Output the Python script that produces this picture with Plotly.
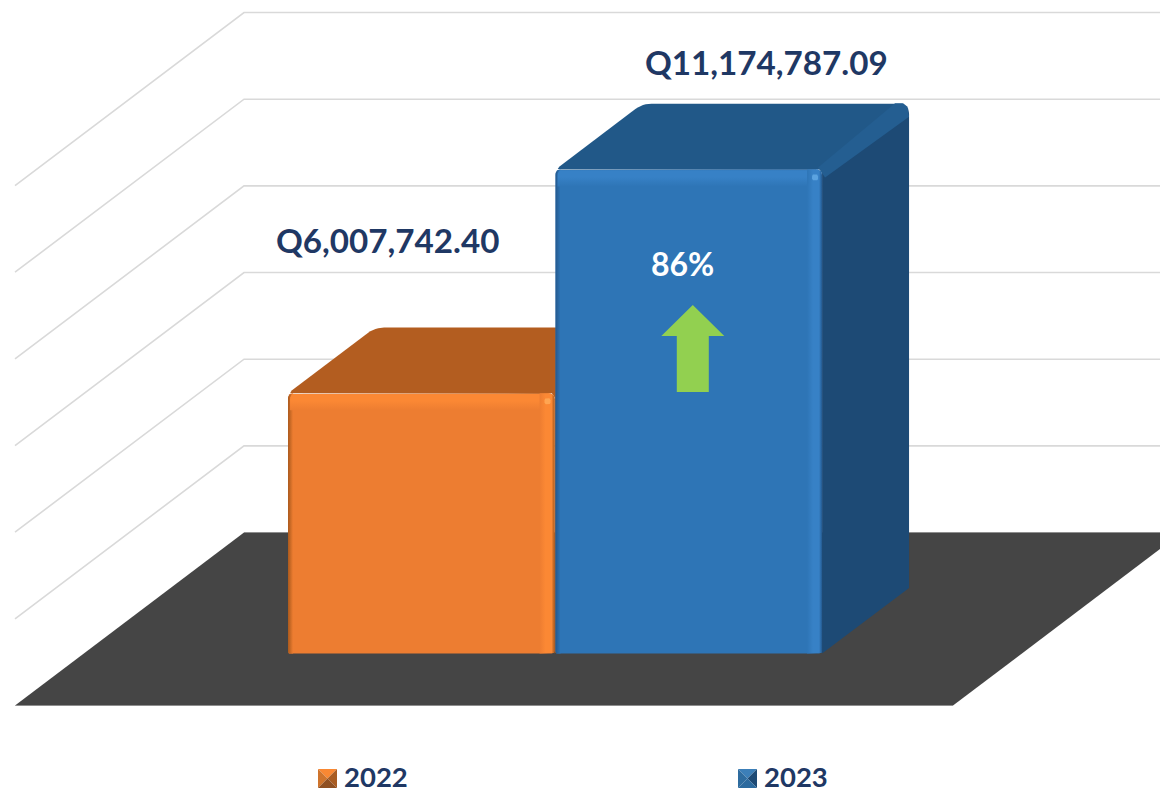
import plotly.graph_objects as go

# ---- data ----
SERIES = ["2022", "2023"]
VALUES = [6007742.40, 11174787.09]
VALUE_LABELS = ["Q6,007,742.40", "Q11,174,787.09"]
GRID_VALUES = [2e6, 4e6, 6e6, 8e6, 10e6, 12e6]
CHANGE_LABEL = "86%"

# ---- scales: x is the fraction of the floor width, y is the value ----
W, H = 1160, 788
PX_PER_X = 938.0
PX_PER_VAL = 43.33e-6
X_RANGE = [-15 / PX_PER_X, (W - 15) / PX_PER_X]
Y_RANGE = [-(H - 532.5) / PX_PER_VAL, 532.5 / PX_PER_VAL]
DEPTH_X = 229 / PX_PER_X
DEPTH_Y = 173 / PX_PER_VAL
BAR_W = 266.5 / PX_PER_X
CENTER = 0.5025
D_FRONT = 0.30
D_BACK = 0.30 + 87 / 229

NAVY = "#1F3864"
STYLES = [
    dict(face="#ED7D31", top="#B35D20", side="#A85A1E", bright="#FB8834", dark="#A9591C",
         ridge="#B35D20", spot="#FFA552", icon=["#F98833", "#CF742C", "#A85C22", "#8F5022"]),
    dict(face="#2E75B6", top="#215888", side="#1D4A75", bright="#3781C6", dark="#24598E",
         ridge="#245E91", spot="#5BA3E0", icon=["#3C7FB8", "#2E6C9F", "#1D4A75", "#2C6A9E"]),
]


def project(x, depth, value):
    """Oblique projection of chart coordinates on the two plane axes."""
    return x + depth * DEPTH_X, value - (1 - depth) * DEPTH_Y


def rounded(points, radii):
    """Round polygon corners; radii are given in screen pixels."""
    out = []
    n = len(points)
    for i, p in enumerate(points):
        r = radii[i]
        if r <= 0:
            out.append(p)
            continue
        a, b = points[i - 1], points[(i + 1) % n]

        def toward(q):
            dx, dy = (q[0] - p[0]) * PX_PER_X, (q[1] - p[1]) * PX_PER_VAL
            length = (dx * dx + dy * dy) ** 0.5
            t = r / length
            return p[0] + (q[0] - p[0]) * t, p[1] + (q[1] - p[1]) * t

        s, e = toward(a), toward(b)
        for k in range(7):
            t = k / 6
            out.append(((1 - t) ** 2 * s[0] + 2 * t * (1 - t) * p[0] + t * t * e[0],
                        (1 - t) ** 2 * s[1] + 2 * t * (1 - t) * p[1] + t * t * e[1]))
    return out


fig = go.Figure()


def poly(points, color=None, gradient=None):
    xs = [p[0] for p in points] + [points[0][0]]
    ys = [p[1] for p in points] + [points[0][1]]
    kw = dict(fillgradient=gradient) if gradient else dict(fillcolor=color)
    fig.add_trace(go.Scatter(x=xs, y=ys, mode="lines", fill="toself", line=dict(width=0),
                             hoverinfo="skip", showlegend=False, **kw))


def line(points, color, width):
    fig.add_trace(go.Scatter(x=[p[0] for p in points], y=[p[1] for p in points], mode="lines",
                             line=dict(color=color, width=width), hoverinfo="skip", showlegend=False))


def grad(kind, stops):
    return dict(type=kind, colorscale=stops)


xp, vp = 1 / PX_PER_X, 1 / PX_PER_VAL

# walls: grid lines running along the left wall and the back wall
for g in GRID_VALUES:
    line([project(0, 0, g), project(0, 1, g), project(1, 1, g), project(1.3, 1, g)], "#D9D9D9", 1.6)

# floor
floor = [project(0, 0, 0), project(1, 0, 0), project(1, 1, 0), project(0, 1, 0)]
line([project(0, 0, 0), project(1, 0, 0)], "#D9D9D9", 1.2)
line([project(0, 1, 0), project(1.3, 1, 0)], "#D9D9D9", 1.2)
poly(floor, "#454545")

# bars
for i, (value, st) in enumerate(zip(VALUES, STYLES)):
    x0 = CENTER - BAR_W - 0.5 * xp if i == 0 else CENTER + 0.5 * xp
    x1 = x0 + BAR_W
    f_bl, f_br = project(x0, D_FRONT, 0), project(x1, D_FRONT, 0)
    f_tl, f_tr = project(x0, D_FRONT, value), project(x1, D_FRONT, value)
    b_br = project(x1, D_BACK, 0)
    b_tl, b_tr = project(x0, D_BACK, value), project(x1, D_BACK, value)

    # right side
    poly(rounded([f_tr, b_tr, b_br, f_br], [0, 10, 0, 0]), st["side"])
    # top
    poly(rounded([f_tl, f_tr, b_tr, b_tl], [5, 0, 10, 9]), st["top"])
    # bevelled ridge between top and right side, covering the seam of the two faces
    poly([(f_tr[0] - 4 * xp, f_tr[1] + 2 * vp), (b_tr[0] - 14 * xp, b_tr[1] + 0.5 * vp), (b_tr[0] - 6 * xp, b_tr[1] + 0.5 * vp),
          (b_tr[0] - 1.5 * xp, b_tr[1] - 3 * vp), (b_tr[0], b_tr[1] - 13 * vp), (f_tr[0] + 3 * xp, f_tr[1] - 8 * vp)],
         st["ridge"])
    # front
    poly(rounded([f_bl, f_br, f_tr, f_tl], [2, 3, 6, 6]), st["face"])

    # left edge shading
    poly(rounded([f_bl, (f_bl[0] + 5 * xp, f_bl[1]), (f_tl[0] + 5 * xp, f_tl[1]), f_tl], [2, 0, 0, 5]),
         gradient=grad("horizontal", [[0, st["dark"]], [1, st["face"]]]))
    # top edge shading
    poly(rounded([(f_tl[0] + 2 * xp, f_tl[1] - 17 * vp), (f_tr[0] - 2 * xp, f_tr[1] - 17 * vp),
                  (f_tr[0] - 2 * xp, f_tr[1]), (f_tl[0] + 2 * xp, f_tl[1])], [0, 0, 6, 6]),
         gradient=grad("vertical", [[0, st["face"]], [0.55, st["bright"]], [0.93, st["bright"]], [1, st["dark"]]]))
    # right edge shading
    poly(rounded([(f_br[0] - 15 * xp, f_br[1]), f_br, f_tr, (f_tr[0] - 15 * xp, f_tr[1])], [0, 3, 6, 0]),
         gradient=grad("horizontal", [[0, st["face"]], [0.4, st["bright"]], [0.8, st["bright"]], [1, st["dark"]]]))
    # small highlight in the corner
    sx, sy = f_tr[0] - 7 * xp, f_tr[1] - 8 * vp
    poly(rounded([(sx - 3 * xp, sy - 3 * vp), (sx + 3 * xp, sy - 3 * vp), (sx + 3 * xp, sy + 3 * vp), (sx - 3 * xp, sy + 3 * vp)],
                 [2, 2, 2, 2]), st["spot"])

annotations = []


def label(x, y, text, color, size):
    annotations.append(dict(x=x, y=y, xref="x", yref="y", text=text, showarrow=False, xanchor="center",
                            yanchor="middle", font=dict(family="Lato, Carlito, sans-serif", size=size, color=color)))


blue_fx = project(CENTER + 0.5 * xp + BAR_W / 2, D_FRONT, 0)[0]

# value labels above each bar
label(project(CENTER - BAR_W / 2, D_FRONT, 0)[0] - 34 * xp, project(0, D_BACK, VALUES[0])[1] + 88 * vp,
      "<b>%s</b>" % VALUE_LABELS[0], NAVY, 33.2)
label(project(CENTER + BAR_W / 2, D_FRONT, 0)[0] + 78 * xp, project(0, D_BACK, VALUES[1])[1] + 42 * vp,
      "<b>%s</b>" % VALUE_LABELS[1], NAVY, 33.2)

# change marker inside the 2023 bar
top_2023 = project(0, D_FRONT, VALUES[1])[1]
ax, ay = blue_fx + 4 * xp, top_2023 - 135.5 * vp
poly([(ax, ay), (ax + 31.5 * xp, ay - 31 * vp), (ax + 16 * xp, ay - 31 * vp), (ax + 16 * xp, ay - 87 * vp),
      (ax - 16 * xp, ay - 87 * vp), (ax - 16 * xp, ay - 31 * vp), (ax - 31.5 * xp, ay - 31 * vp)], "#92D050")
label(blue_fx - 6 * xp, top_2023 - 94 * vp, "<b>%s</b>" % CHANGE_LABEL, "white", 32)

# legend
legend_left = [318, 738]
legend_mid = 778.5
for name, left, st in zip(SERIES, legend_left, STYLES):
    x0 = (left - 15) * xp
    y_mid = (532.5 - legend_mid) * vp
    s = 9.5
    cx = x0 + s * xp
    c = (cx, y_mid)
    tl, tr = (cx - s * xp, y_mid + s * vp), (cx + s * xp, y_mid + s * vp)
    bl, br = (cx - s * xp, y_mid - s * vp), (cx + s * xp, y_mid - s * vp)
    poly([tl, tr, c], st["icon"][0])
    poly([tl, bl, c], st["icon"][1])
    poly([tr, br, c], st["icon"][2])
    poly([bl, br, c], st["icon"][3])
    label(x0 + 58 * xp, y_mid + 2.5 * vp, "<b>%s</b>" % name, NAVY, 27.5)

fig.update_layout(
    width=W, height=H, margin=dict(l=0, r=0, t=0, b=0), paper_bgcolor="white", plot_bgcolor="white",
    xaxis=dict(range=X_RANGE, visible=False, fixedrange=True),
    yaxis=dict(range=Y_RANGE, visible=False, fixedrange=True),
    annotations=annotations, showlegend=False,
)
fig.write_html("out.html", config=dict(displayModeBar=False),
               post_script="document.body.style.margin='0';document.body.style.overflow='hidden';")
